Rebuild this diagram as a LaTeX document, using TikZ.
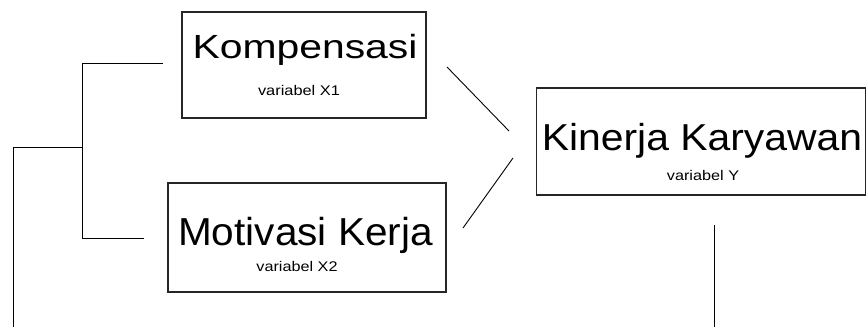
\documentclass[tikz,border=0pt]{standalone}
\usepackage{fontspec}
\usepackage{graphicx}
\setmainfont{Liberation Sans}
\tikzset{
  varbox/.style={draw=black!85, line width=1.3pt, rectangle, inner sep=0pt},
  bigtxt/.style={anchor=base, inner sep=0pt, font=\fontsize{#1}{#1}\selectfont},
  smalltxt/.style={anchor=base, inner sep=0pt, font=\fontsize{14}{14}\selectfont},
  link/.style={draw=black, line width=0.9pt},
}
\begin{document}
\begin{tikzpicture}[x=1pt,y=-1pt]
\useasboundingbox (0,0) rectangle (867,327);
% boxes
\node[varbox, minimum width=244pt, minimum height=106pt] (bx1) at (304,65) {};
\node[varbox, minimum width=278pt, minimum height=109pt] (bx2) at (307,237.5) {};
\node[varbox, minimum width=329pt, minimum height=107pt] (by) at (701,141.5) {};
% texts
\node[bigtxt=33.5] (t1) at (305,58) {\scalebox{1.22}[1]{Kompensasi}};
\node[smalltxt] (s1) at (299,95) {\scalebox{1.17}[1]{variabel X1}};
\node[bigtxt=39] (t2) at (305.5,245) {\scalebox{1.04}[1]{Motivasi Kerja}};
\node[smalltxt] (s2) at (297,271.7) {\scalebox{1.16}[1]{variabel X2}};
\node[bigtxt=37.5] (ty) at (702,150) {\scalebox{1.09}[1]{Kinerja Karyawan}};
\node[smalltxt] (sy) at (703,180) {\scalebox{1.16}[1]{variabel Y}};
% connector points
\coordinate (a1) at (163,63);
\coordinate (a2) at (82,63);
\coordinate (a3) at (82,238);
\coordinate (a4) at (144,238);
\coordinate (m1) at (82,147);
\coordinate (m2) at (13,147);
\coordinate (m3) at (13,327);
\coordinate (d1a) at (447,67);
\coordinate (d1b) at (509,131);
\coordinate (d2a) at (513,158);
\coordinate (d2b) at (463,228);
\coordinate (v1) at (714,225);
\coordinate (v2) at (714,327);
% lines
\draw[link] (a1) -- (a2) -- (a3) -- (a4);
\draw[link] (m1) -- (m2) -- (m3);
\draw[link] (d1a) -- (d1b);
\draw[link] (d2a) -- (d2b);
\draw[link] (v1) -- (v2);
\end{tikzpicture}
\end{document}
